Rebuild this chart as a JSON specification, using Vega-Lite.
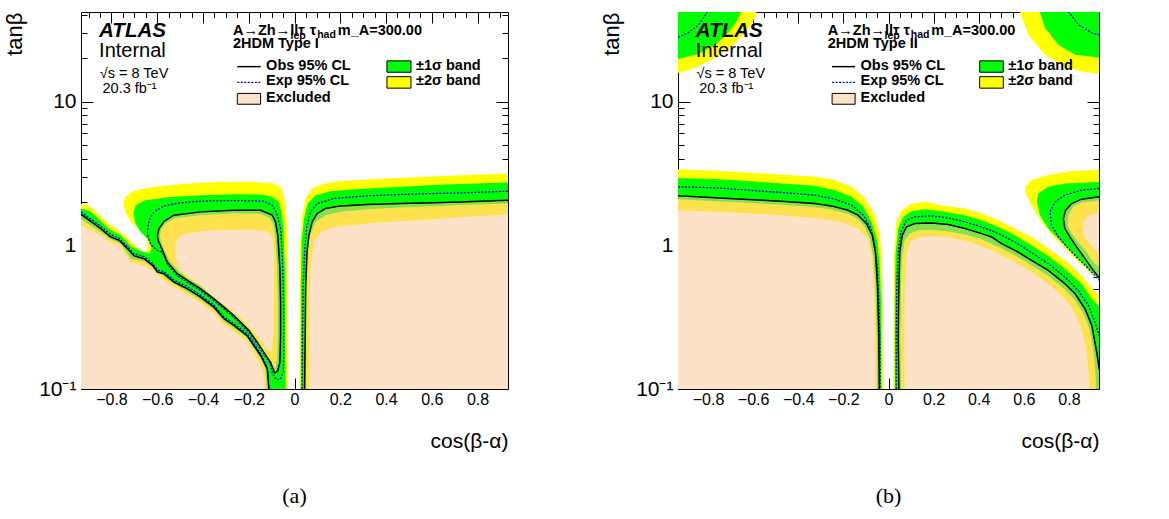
{
"$schema": "https://vega.github.io/schema/vega-lite/v6.json",
"background": "white",
"padding": {"left": 3, "top": 3, "right": 5, "bottom": 5},
"spacing": 91,
"config": {"view": {"stroke": "#000", "strokeWidth": 1}, "axis": {"labelFont": "Liberation Sans", "titleFont": "Liberation Sans", "labelColor": "#000", "titleColor": "#000", "tickColor": "#000", "domain": false, "grid": false}},
"datasets": {
"poly": [
{"p":"a","k":"oy","id":1,"o":1,"x":-0.95,"y":0.09},{"p":"a","k":"oy","id":1,"o":2,"x":-0.95,"y":1.984},{"p":"a","k":"oy","id":1,"o":3,"x":-0.89,"y":1.851},{"p":"a","k":"oy","id":1,"o":4,"x":-0.847,"y":1.577},{"p":"a","k":"oy","id":1,"o":5,"x":-0.803,"y":1.379},{"p":"a","k":"oy","id":1,"o":6,"x":-0.759,"y":1.239},{"p":"a","k":"oy","id":1,"o":7,"x":-0.716,"y":1.066},{"p":"a","k":"oy","id":1,"o":8,"x":-0.687,"y":0.958},{"p":"a","k":"oy","id":1,"o":9,"x":-0.655,"y":0.898},{"p":"a","k":"oy","id":1,"o":10,"x":-0.64,"y":0.908},{"p":"a","k":"oy","id":1,"o":11,"x":-0.643,"y":1.044},{"p":"a","k":"oy","id":1,"o":12,"x":-0.657,"y":1.174},{"p":"a","k":"oy","id":1,"o":13,"x":-0.684,"y":1.307},{"p":"a","k":"oy","id":1,"o":14,"x":-0.713,"y":1.455},{"p":"a","k":"oy","id":1,"o":15,"x":-0.737,"y":1.663},{"p":"a","k":"oy","id":1,"o":16,"x":-0.748,"y":1.921},{"p":"a","k":"oy","id":1,"o":17,"x":-0.74,"y":2.174},{"p":"a","k":"oy","id":1,"o":18,"x":-0.701,"y":2.393},{"p":"a","k":"oy","id":1,"o":19,"x":-0.628,"y":2.539},{"p":"a","k":"oy","id":1,"o":20,"x":-0.483,"y":2.679},{"p":"a","k":"oy","id":1,"o":21,"x":-0.337,"y":2.751},{"p":"a","k":"oy","id":1,"o":22,"x":-0.192,"y":2.766},{"p":"a","k":"oy","id":1,"o":23,"x":-0.09,"y":2.693},{"p":"a","k":"oy","id":1,"o":24,"x":-0.057,"y":2.485},{"p":"a","k":"oy","id":1,"o":25,"x":-0.042,"y":2.006},{"p":"a","k":"oy","id":1,"o":26,"x":-0.035,"y":1.535},{"p":"a","k":"oy","id":1,"o":27,"x":-0.032,"y":0.898},{"p":"a","k":"oy","id":1,"o":28,"x":-0.031,"y":0.09},
{"p":"a","k":"oy","id":2,"o":1,"x":0.022,"y":0.09},{"p":"a","k":"oy","id":2,"o":2,"x":0.022,"y":0.526},{"p":"a","k":"oy","id":2,"o":3,"x":0.025,"y":1.055},{"p":"a","k":"oy","id":2,"o":4,"x":0.033,"y":1.62},{"p":"a","k":"oy","id":2,"o":5,"x":0.048,"y":2.116},{"p":"a","k":"oy","id":2,"o":6,"x":0.077,"y":2.485},{"p":"a","k":"oy","id":2,"o":7,"x":0.128,"y":2.693},{"p":"a","k":"oy","id":2,"o":8,"x":0.215,"y":2.811},{"p":"a","k":"oy","id":2,"o":9,"x":0.317,"y":2.872},{"p":"a","k":"oy","id":2,"o":10,"x":0.463,"y":2.95},{"p":"a","k":"oy","id":2,"o":11,"x":0.608,"y":3.013},{"p":"a","k":"oy","id":2,"o":12,"x":0.753,"y":3.078},{"p":"a","k":"oy","id":2,"o":13,"x":0.95,"y":3.162},{"p":"a","k":"oy","id":2,"o":14,"x":0.95,"y":0.09},
{"p":"a","k":"og","id":3,"o":1,"x":-0.95,"y":0.09},{"p":"a","k":"og","id":3,"o":2,"x":-0.95,"y":1.851},{"p":"a","k":"og","id":3,"o":3,"x":-0.89,"y":1.708},{"p":"a","k":"og","id":3,"o":4,"x":-0.847,"y":1.478},{"p":"a","k":"og","id":3,"o":5,"x":-0.803,"y":1.273},{"p":"a","k":"og","id":3,"o":6,"x":-0.759,"y":1.174},{"p":"a","k":"og","id":3,"o":7,"x":-0.716,"y":0.989},{"p":"a","k":"og","id":3,"o":8,"x":-0.672,"y":0.908},{"p":"a","k":"og","id":3,"o":9,"x":-0.633,"y":0.875},{"p":"a","k":"og","id":3,"o":10,"x":-0.625,"y":0.958},{"p":"a","k":"og","id":3,"o":11,"x":-0.64,"y":1.101},{"p":"a","k":"og","id":3,"o":12,"x":-0.672,"y":1.239},{"p":"a","k":"og","id":3,"o":13,"x":-0.697,"y":1.439},{"p":"a","k":"og","id":3,"o":14,"x":-0.704,"y":1.69},{"p":"a","k":"og","id":3,"o":15,"x":-0.694,"y":1.901},{"p":"a","k":"og","id":3,"o":16,"x":-0.657,"y":2.049},{"p":"a","k":"og","id":3,"o":17,"x":-0.556,"y":2.162},{"p":"a","k":"og","id":3,"o":18,"x":-0.41,"y":2.233},{"p":"a","k":"og","id":3,"o":19,"x":-0.265,"y":2.269},{"p":"a","k":"og","id":3,"o":20,"x":-0.148,"y":2.257},{"p":"a","k":"og","id":3,"o":21,"x":-0.097,"y":2.174},{"p":"a","k":"og","id":3,"o":22,"x":-0.068,"y":1.984},{"p":"a","k":"og","id":3,"o":23,"x":-0.054,"y":1.62},{"p":"a","k":"og","id":3,"o":24,"x":-0.047,"y":1.174},{"p":"a","k":"og","id":3,"o":25,"x":-0.042,"y":0.688},{"p":"a","k":"og","id":3,"o":26,"x":-0.039,"y":0.09},
{"p":"a","k":"og","id":4,"o":1,"x":0.028,"y":0.09},{"p":"a","k":"og","id":4,"o":2,"x":0.028,"y":0.526},{"p":"a","k":"og","id":4,"o":3,"x":0.031,"y":1.055},{"p":"a","k":"og","id":4,"o":4,"x":0.041,"y":1.535},{"p":"a","k":"og","id":4,"o":5,"x":0.058,"y":1.953},{"p":"a","k":"og","id":4,"o":6,"x":0.092,"y":2.233},{"p":"a","k":"og","id":4,"o":7,"x":0.157,"y":2.38},{"p":"a","k":"og","id":4,"o":8,"x":0.244,"y":2.446},{"p":"a","k":"og","id":4,"o":9,"x":0.317,"y":2.485},{"p":"a","k":"og","id":4,"o":10,"x":0.463,"y":2.553},{"p":"a","k":"og","id":4,"o":11,"x":0.608,"y":2.622},{"p":"a","k":"og","id":4,"o":12,"x":0.753,"y":2.679},{"p":"a","k":"og","id":4,"o":13,"x":0.95,"y":2.736},{"p":"a","k":"og","id":4,"o":14,"x":0.95,"y":0.09},
{"p":"a","k":"ig","id":5,"o":1,"x":-0.95,"y":0.09},{"p":"a","k":"ig","id":5,"o":2,"x":-0.95,"y":1.577},{"p":"a","k":"ig","id":5,"o":3,"x":-0.847,"y":1.239},{"p":"a","k":"ig","id":5,"o":4,"x":-0.803,"y":1.101},{"p":"a","k":"ig","id":5,"o":5,"x":-0.759,"y":1.027},{"p":"a","k":"ig","id":5,"o":6,"x":-0.716,"y":0.807},{"p":"a","k":"ig","id":5,"o":7,"x":-0.657,"y":0.773},{"p":"a","k":"ig","id":5,"o":8,"x":-0.614,"y":0.695},{"p":"a","k":"ig","id":5,"o":9,"x":-0.556,"y":0.579},{"p":"a","k":"ig","id":5,"o":10,"x":-0.468,"y":0.477},{"p":"a","k":"ig","id":5,"o":11,"x":-0.41,"y":0.417},{"p":"a","k":"ig","id":5,"o":12,"x":-0.352,"y":0.358},{"p":"a","k":"ig","id":5,"o":13,"x":-0.308,"y":0.296},{"p":"a","k":"ig","id":5,"o":14,"x":-0.265,"y":0.266},{"p":"a","k":"ig","id":5,"o":15,"x":-0.207,"y":0.226},{"p":"a","k":"ig","id":5,"o":16,"x":-0.148,"y":0.164},{"p":"a","k":"ig","id":5,"o":17,"x":-0.127,"y":0.138},{"p":"a","k":"ig","id":5,"o":18,"x":-0.119,"y":0.09},
{"p":"a","k":"ig","id":6,"o":1,"x":-0.588,"y":1.174},{"p":"a","k":"ig","id":6,"o":2,"x":-0.582,"y":1.293},{"p":"a","k":"ig","id":6,"o":3,"x":-0.563,"y":1.416},{"p":"a","k":"ig","id":6,"o":4,"x":-0.519,"y":1.551},{"p":"a","k":"ig","id":6,"o":5,"x":-0.41,"y":1.62},{"p":"a","k":"ig","id":6,"o":6,"x":-0.265,"y":1.663},{"p":"a","k":"ig","id":6,"o":7,"x":-0.148,"y":1.654},{"p":"a","k":"ig","id":6,"o":8,"x":-0.108,"y":1.551},{"p":"a","k":"ig","id":6,"o":9,"x":-0.093,"y":1.394},{"p":"a","k":"ig","id":6,"o":10,"x":-0.084,"y":1.113},{"p":"a","k":"ig","id":6,"o":11,"x":-0.076,"y":0.688},{"p":"a","k":"ig","id":6,"o":12,"x":-0.073,"y":0.402},{"p":"a","k":"ig","id":6,"o":13,"x":-0.073,"y":0.235},{"p":"a","k":"ig","id":6,"o":14,"x":-0.076,"y":0.162},{"p":"a","k":"ig","id":6,"o":15,"x":-0.084,"y":0.139},{"p":"a","k":"ig","id":6,"o":16,"x":-0.097,"y":0.146},{"p":"a","k":"ig","id":6,"o":17,"x":-0.119,"y":0.162},{"p":"a","k":"ig","id":6,"o":18,"x":-0.148,"y":0.19},{"p":"a","k":"ig","id":6,"o":19,"x":-0.177,"y":0.224},{"p":"a","k":"ig","id":6,"o":20,"x":-0.207,"y":0.262},{"p":"a","k":"ig","id":6,"o":21,"x":-0.243,"y":0.3},{"p":"a","k":"ig","id":6,"o":22,"x":-0.272,"y":0.337},{"p":"a","k":"ig","id":6,"o":23,"x":-0.316,"y":0.386},{"p":"a","k":"ig","id":6,"o":24,"x":-0.359,"y":0.441},{"p":"a","k":"ig","id":6,"o":25,"x":-0.41,"y":0.518},{"p":"a","k":"ig","id":6,"o":26,"x":-0.468,"y":0.592},{"p":"a","k":"ig","id":6,"o":27,"x":-0.505,"y":0.659},{"p":"a","k":"ig","id":6,"o":28,"x":-0.548,"y":0.786},{"p":"a","k":"ig","id":6,"o":29,"x":-0.57,"y":0.938},{"p":"a","k":"ig","id":6,"o":30,"x":-0.585,"y":1.084},
{"p":"a","k":"ig","id":7,"o":1,"x":0.049,"y":0.09},{"p":"a","k":"ig","id":7,"o":2,"x":0.051,"y":0.526},{"p":"a","k":"ig","id":7,"o":3,"x":0.055,"y":0.852},{"p":"a","k":"ig","id":7,"o":4,"x":0.067,"y":1.174},{"p":"a","k":"ig","id":7,"o":5,"x":0.092,"y":1.455},{"p":"a","k":"ig","id":7,"o":6,"x":0.135,"y":1.62},{"p":"a","k":"ig","id":7,"o":7,"x":0.201,"y":1.708},{"p":"a","k":"ig","id":7,"o":8,"x":0.317,"y":1.783},{"p":"a","k":"ig","id":7,"o":9,"x":0.463,"y":1.831},{"p":"a","k":"ig","id":7,"o":10,"x":0.608,"y":1.87},{"p":"a","k":"ig","id":7,"o":11,"x":0.753,"y":1.911},{"p":"a","k":"ig","id":7,"o":12,"x":0.95,"y":1.953},{"p":"a","k":"ig","id":7,"o":13,"x":0.95,"y":0.09},
{"p":"a","k":"iy","id":8,"o":1,"x":-0.95,"y":0.09},{"p":"a","k":"iy","id":8,"o":2,"x":-0.95,"y":1.416},{"p":"a","k":"iy","id":8,"o":3,"x":-0.847,"y":1.174},{"p":"a","k":"iy","id":8,"o":4,"x":-0.803,"y":1.044},{"p":"a","k":"iy","id":8,"o":5,"x":-0.759,"y":0.974},{"p":"a","k":"iy","id":8,"o":6,"x":-0.716,"y":0.757},{"p":"a","k":"iy","id":8,"o":7,"x":-0.657,"y":0.725},{"p":"a","k":"iy","id":8,"o":8,"x":-0.614,"y":0.652},{"p":"a","k":"iy","id":8,"o":9,"x":-0.556,"y":0.546},{"p":"a","k":"iy","id":8,"o":10,"x":-0.468,"y":0.453},{"p":"a","k":"iy","id":8,"o":11,"x":-0.41,"y":0.396},{"p":"a","k":"iy","id":8,"o":12,"x":-0.352,"y":0.339},{"p":"a","k":"iy","id":8,"o":13,"x":-0.308,"y":0.281},{"p":"a","k":"iy","id":8,"o":14,"x":-0.265,"y":0.252},{"p":"a","k":"iy","id":8,"o":15,"x":-0.207,"y":0.214},{"p":"a","k":"iy","id":8,"o":16,"x":-0.156,"y":0.154},{"p":"a","k":"iy","id":8,"o":17,"x":-0.134,"y":0.124},{"p":"a","k":"iy","id":8,"o":18,"x":-0.129,"y":0.09},
{"p":"a","k":"iy","id":9,"o":1,"x":-0.524,"y":0.948},{"p":"a","k":"iy","id":9,"o":2,"x":-0.519,"y":1.055},{"p":"a","k":"iy","id":9,"o":3,"x":-0.497,"y":1.174},{"p":"a","k":"iy","id":9,"o":4,"x":-0.439,"y":1.239},{"p":"a","k":"iy","id":9,"o":5,"x":-0.337,"y":1.279},{"p":"a","k":"iy","id":9,"o":6,"x":-0.192,"y":1.286},{"p":"a","k":"iy","id":9,"o":7,"x":-0.119,"y":1.252},{"p":"a","k":"iy","id":9,"o":8,"x":-0.097,"y":1.143},{"p":"a","k":"iy","id":9,"o":9,"x":-0.09,"y":0.852},{"p":"a","k":"iy","id":9,"o":10,"x":-0.09,"y":0.402},{"p":"a","k":"iy","id":9,"o":11,"x":-0.093,"y":0.235},{"p":"a","k":"iy","id":9,"o":12,"x":-0.102,"y":0.18},{"p":"a","k":"iy","id":9,"o":13,"x":-0.119,"y":0.185},{"p":"a","k":"iy","id":9,"o":14,"x":-0.148,"y":0.218},{"p":"a","k":"iy","id":9,"o":15,"x":-0.177,"y":0.249},{"p":"a","k":"iy","id":9,"o":16,"x":-0.207,"y":0.284},{"p":"a","k":"iy","id":9,"o":17,"x":-0.243,"y":0.321},{"p":"a","k":"iy","id":9,"o":18,"x":-0.279,"y":0.358},{"p":"a","k":"iy","id":9,"o":19,"x":-0.323,"y":0.402},{"p":"a","k":"iy","id":9,"o":20,"x":-0.367,"y":0.46},{"p":"a","k":"iy","id":9,"o":21,"x":-0.41,"y":0.532},{"p":"a","k":"iy","id":9,"o":22,"x":-0.468,"y":0.611},{"p":"a","k":"iy","id":9,"o":23,"x":-0.505,"y":0.688},{"p":"a","k":"iy","id":9,"o":24,"x":-0.519,"y":0.807},
{"p":"a","k":"iy","id":10,"o":1,"x":0.063,"y":0.09},{"p":"a","k":"iy","id":10,"o":2,"x":0.064,"y":0.402},{"p":"a","k":"iy","id":10,"o":3,"x":0.07,"y":0.688},{"p":"a","k":"iy","id":10,"o":4,"x":0.084,"y":1.055},{"p":"a","k":"iy","id":10,"o":5,"x":0.113,"y":1.239},{"p":"a","k":"iy","id":10,"o":6,"x":0.172,"y":1.342},{"p":"a","k":"iy","id":10,"o":7,"x":0.317,"y":1.416},{"p":"a","k":"iy","id":10,"o":8,"x":0.463,"y":1.47},{"p":"a","k":"iy","id":10,"o":9,"x":0.608,"y":1.518},{"p":"a","k":"iy","id":10,"o":10,"x":0.753,"y":1.577},{"p":"a","k":"iy","id":10,"o":11,"x":0.95,"y":1.645},{"p":"a","k":"iy","id":10,"o":12,"x":0.95,"y":0.09},
{"p":"a","k":"ob","id":11,"o":1,"x":-0.95,"y":0.09},{"p":"a","k":"ob","id":11,"o":2,"x":-0.95,"y":1.72},{"p":"a","k":"ob","id":11,"o":3,"x":-0.847,"y":1.307},{"p":"a","k":"ob","id":11,"o":4,"x":-0.804,"y":1.143},{"p":"a","k":"ob","id":11,"o":5,"x":-0.767,"y":1.084},{"p":"a","k":"ob","id":11,"o":6,"x":-0.73,"y":0.948},{"p":"a","k":"ob","id":11,"o":7,"x":-0.701,"y":0.843},{"p":"a","k":"ob","id":11,"o":8,"x":-0.657,"y":0.807},{"p":"a","k":"ob","id":11,"o":9,"x":-0.621,"y":0.725},{"p":"a","k":"ob","id":11,"o":10,"x":-0.599,"y":0.652},{"p":"a","k":"ob","id":11,"o":11,"x":-0.57,"y":0.634},{"p":"a","k":"ob","id":11,"o":12,"x":-0.527,"y":0.555},{"p":"a","k":"ob","id":11,"o":13,"x":-0.468,"y":0.498},{"p":"a","k":"ob","id":11,"o":14,"x":-0.41,"y":0.436},{"p":"a","k":"ob","id":11,"o":15,"x":-0.352,"y":0.371},{"p":"a","k":"ob","id":11,"o":16,"x":-0.308,"y":0.308},{"p":"a","k":"ob","id":11,"o":17,"x":-0.265,"y":0.277},{"p":"a","k":"ob","id":11,"o":18,"x":-0.207,"y":0.235},{"p":"a","k":"ob","id":11,"o":19,"x":-0.177,"y":0.2},{"p":"a","k":"ob","id":11,"o":20,"x":-0.148,"y":0.171},{"p":"a","k":"ob","id":11,"o":21,"x":-0.119,"y":0.138},{"p":"a","k":"ob","id":11,"o":22,"x":-0.112,"y":0.1},{"p":"a","k":"ob","id":11,"o":23,"x":-0.112,"y":0.09},
{"p":"a","k":"ob","id":12,"o":1,"x":-0.599,"y":1.174},{"p":"a","k":"ob","id":12,"o":2,"x":-0.592,"y":1.307},{"p":"a","k":"ob","id":12,"o":3,"x":-0.57,"y":1.47},{"p":"a","k":"ob","id":12,"o":4,"x":-0.527,"y":1.62},{"p":"a","k":"ob","id":12,"o":5,"x":-0.41,"y":1.708},{"p":"a","k":"ob","id":12,"o":6,"x":-0.265,"y":1.754},{"p":"a","k":"ob","id":12,"o":7,"x":-0.148,"y":1.754},{"p":"a","k":"ob","id":12,"o":8,"x":-0.097,"y":1.62},{"p":"a","k":"ob","id":12,"o":9,"x":-0.083,"y":1.455},{"p":"a","k":"ob","id":12,"o":10,"x":-0.073,"y":1.174},{"p":"a","k":"ob","id":12,"o":11,"x":-0.064,"y":0.688},{"p":"a","k":"ob","id":12,"o":12,"x":-0.061,"y":0.402},{"p":"a","k":"ob","id":12,"o":13,"x":-0.061,"y":0.235},{"p":"a","k":"ob","id":12,"o":14,"x":-0.064,"y":0.154},{"p":"a","k":"ob","id":12,"o":15,"x":-0.073,"y":0.134},{"p":"a","k":"ob","id":12,"o":16,"x":-0.087,"y":0.129},{"p":"a","k":"ob","id":12,"o":17,"x":-0.105,"y":0.154},{"p":"a","k":"ob","id":12,"o":18,"x":-0.134,"y":0.18},{"p":"a","k":"ob","id":12,"o":19,"x":-0.163,"y":0.212},{"p":"a","k":"ob","id":12,"o":20,"x":-0.199,"y":0.255},{"p":"a","k":"ob","id":12,"o":21,"x":-0.236,"y":0.292},{"p":"a","k":"ob","id":12,"o":22,"x":-0.265,"y":0.325},{"p":"a","k":"ob","id":12,"o":23,"x":-0.308,"y":0.371},{"p":"a","k":"ob","id":12,"o":24,"x":-0.352,"y":0.424},{"p":"a","k":"ob","id":12,"o":25,"x":-0.41,"y":0.498},{"p":"a","k":"ob","id":12,"o":26,"x":-0.468,"y":0.57},{"p":"a","k":"ob","id":12,"o":27,"x":-0.512,"y":0.634},{"p":"a","k":"ob","id":12,"o":28,"x":-0.556,"y":0.765},{"p":"a","k":"ob","id":12,"o":29,"x":-0.577,"y":0.923},{"p":"a","k":"ob","id":12,"o":30,"x":-0.596,"y":1.084},{"p":"a","k":"ob","id":12,"o":31,"x":-0.599,"y":1.174},
{"p":"a","k":"ob","id":13,"o":1,"x":0.044,"y":0.09},{"p":"a","k":"ob","id":13,"o":2,"x":0.044,"y":0.1},{"p":"a","k":"ob","id":13,"o":3,"x":0.047,"y":0.235},{"p":"a","k":"ob","id":13,"o":4,"x":0.049,"y":0.526},{"p":"a","k":"ob","id":13,"o":5,"x":0.055,"y":0.898},{"p":"a","k":"ob","id":13,"o":6,"x":0.063,"y":1.174},{"p":"a","k":"ob","id":13,"o":7,"x":0.077,"y":1.455},{"p":"a","k":"ob","id":13,"o":8,"x":0.099,"y":1.663},{"p":"a","k":"ob","id":13,"o":9,"x":0.135,"y":1.803},{"p":"a","k":"ob","id":13,"o":10,"x":0.201,"y":1.88},{"p":"a","k":"ob","id":13,"o":11,"x":0.317,"y":1.921},{"p":"a","k":"ob","id":13,"o":12,"x":0.463,"y":1.953},{"p":"a","k":"ob","id":13,"o":13,"x":0.608,"y":1.974},{"p":"a","k":"ob","id":13,"o":14,"x":0.753,"y":2.006},{"p":"a","k":"ob","id":13,"o":15,"x":0.95,"y":2.065},{"p":"a","k":"ob","id":13,"o":16,"x":0.95,"y":0.09},
{"p":"b","k":"oy","id":1,"o":1,"x":-0.95,"y":0.09},{"p":"b","k":"oy","id":1,"o":2,"x":-0.95,"y":3.39},{"p":"b","k":"oy","id":1,"o":3,"x":-0.77,"y":3.3},{"p":"b","k":"oy","id":1,"o":4,"x":-0.623,"y":3.214},{"p":"b","k":"oy","id":1,"o":5,"x":-0.475,"y":3.112},{"p":"b","k":"oy","id":1,"o":6,"x":-0.327,"y":2.997},{"p":"b","k":"oy","id":1,"o":7,"x":-0.238,"y":2.841},{"p":"b","k":"oy","id":1,"o":8,"x":-0.164,"y":2.553},{"p":"b","k":"oy","id":1,"o":9,"x":-0.105,"y":2.116},{"p":"b","k":"oy","id":1,"o":10,"x":-0.061,"y":1.62},{"p":"b","k":"oy","id":1,"o":11,"x":-0.038,"y":1.174},{"p":"b","k":"oy","id":1,"o":12,"x":-0.028,"y":0.688},{"p":"b","k":"oy","id":1,"o":13,"x":-0.024,"y":0.09},
{"p":"b","k":"oy","id":2,"o":1,"x":0.021,"y":0.09},{"p":"b","k":"oy","id":2,"o":2,"x":0.022,"y":0.402},{"p":"b","k":"oy","id":2,"o":3,"x":0.025,"y":0.898},{"p":"b","k":"oy","id":2,"o":4,"x":0.035,"y":1.455},{"p":"b","k":"oy","id":2,"o":5,"x":0.058,"y":1.754},{"p":"b","k":"oy","id":2,"o":6,"x":0.102,"y":1.953},{"p":"b","k":"oy","id":2,"o":7,"x":0.161,"y":2.006},{"p":"b","k":"oy","id":2,"o":8,"x":0.235,"y":1.901},{"p":"b","k":"oy","id":2,"o":9,"x":0.339,"y":1.803},{"p":"b","k":"oy","id":2,"o":10,"x":0.413,"y":1.663},{"p":"b","k":"oy","id":2,"o":11,"x":0.487,"y":1.494},{"p":"b","k":"oy","id":2,"o":12,"x":0.56,"y":1.307},{"p":"b","k":"oy","id":2,"o":13,"x":0.634,"y":1.143},{"p":"b","k":"oy","id":2,"o":14,"x":0.708,"y":0.948},{"p":"b","k":"oy","id":2,"o":15,"x":0.782,"y":0.786},{"p":"b","k":"oy","id":2,"o":16,"x":0.856,"y":0.617},{"p":"b","k":"oy","id":2,"o":17,"x":0.901,"y":0.498},{"p":"b","k":"oy","id":2,"o":18,"x":0.95,"y":0.424},{"p":"b","k":"oy","id":2,"o":19,"x":0.95,"y":0.09},
{"p":"b","k":"oy","id":3,"o":1,"x":0.95,"y":3.372},{"p":"b","k":"oy","id":3,"o":2,"x":0.812,"y":3.283},{"p":"b","k":"oy","id":3,"o":3,"x":0.708,"y":3.078},{"p":"b","k":"oy","id":3,"o":4,"x":0.634,"y":2.841},{"p":"b","k":"oy","id":3,"o":5,"x":0.605,"y":2.553},{"p":"b","k":"oy","id":3,"o":6,"x":0.608,"y":2.293},{"p":"b","k":"oy","id":3,"o":7,"x":0.634,"y":1.901},{"p":"b","k":"oy","id":3,"o":8,"x":0.679,"y":1.455},{"p":"b","k":"oy","id":3,"o":9,"x":0.738,"y":1.113},{"p":"b","k":"oy","id":3,"o":10,"x":0.797,"y":0.898},{"p":"b","k":"oy","id":3,"o":11,"x":0.856,"y":0.725},{"p":"b","k":"oy","id":3,"o":12,"x":0.901,"y":0.634},{"p":"b","k":"oy","id":3,"o":13,"x":0.95,"y":0.55},
{"p":"b","k":"oy","id":4,"o":1,"x":-0.95,"y":45},{"p":"b","k":"oy","id":4,"o":2,"x":-0.578,"y":45},{"p":"b","k":"oy","id":4,"o":3,"x":-0.6,"y":36.1},{"p":"b","k":"oy","id":4,"o":4,"x":-0.637,"y":30},{"p":"b","k":"oy","id":4,"o":5,"x":-0.696,"y":24.2},{"p":"b","k":"oy","id":4,"o":6,"x":-0.77,"y":20.1},{"p":"b","k":"oy","id":4,"o":7,"x":-0.859,"y":17.1},{"p":"b","k":"oy","id":4,"o":8,"x":-0.95,"y":15.5},
{"p":"b","k":"oy","id":5,"o":1,"x":0.575,"y":45},{"p":"b","k":"oy","id":5,"o":2,"x":0.95,"y":45},{"p":"b","k":"oy","id":5,"o":3,"x":0.95,"y":15.5},{"p":"b","k":"oy","id":5,"o":4,"x":0.871,"y":16},{"p":"b","k":"oy","id":5,"o":5,"x":0.782,"y":17.5},{"p":"b","k":"oy","id":5,"o":6,"x":0.694,"y":21.2},{"p":"b","k":"oy","id":5,"o":7,"x":0.62,"y":29.2},
{"p":"b","k":"og","id":6,"o":1,"x":-0.95,"y":0.09},{"p":"b","k":"og","id":6,"o":2,"x":-0.95,"y":2.95},{"p":"b","k":"og","id":6,"o":3,"x":-0.77,"y":2.887},{"p":"b","k":"og","id":6,"o":4,"x":-0.623,"y":2.796},{"p":"b","k":"og","id":6,"o":5,"x":-0.475,"y":2.693},{"p":"b","k":"og","id":6,"o":6,"x":-0.327,"y":2.594},{"p":"b","k":"og","id":6,"o":7,"x":-0.238,"y":2.419},{"p":"b","k":"og","id":6,"o":8,"x":-0.164,"y":2.174},{"p":"b","k":"og","id":6,"o":9,"x":-0.112,"y":1.851},{"p":"b","k":"og","id":6,"o":10,"x":-0.075,"y":1.455},{"p":"b","k":"og","id":6,"o":11,"x":-0.049,"y":1.055},{"p":"b","k":"og","id":6,"o":12,"x":-0.038,"y":0.688},{"p":"b","k":"og","id":6,"o":13,"x":-0.033,"y":0.402},{"p":"b","k":"og","id":6,"o":14,"x":-0.031,"y":0.09},
{"p":"b","k":"og","id":7,"o":1,"x":0.028,"y":0.09},{"p":"b","k":"og","id":7,"o":2,"x":0.028,"y":0.402},{"p":"b","k":"og","id":7,"o":3,"x":0.031,"y":0.852},{"p":"b","k":"og","id":7,"o":4,"x":0.043,"y":1.307},{"p":"b","k":"og","id":7,"o":5,"x":0.065,"y":1.577},{"p":"b","k":"og","id":7,"o":6,"x":0.102,"y":1.727},{"p":"b","k":"og","id":7,"o":7,"x":0.161,"y":1.783},{"p":"b","k":"og","id":7,"o":8,"x":0.235,"y":1.727},{"p":"b","k":"og","id":7,"o":9,"x":0.339,"y":1.62},{"p":"b","k":"og","id":7,"o":10,"x":0.413,"y":1.494},{"p":"b","k":"og","id":7,"o":11,"x":0.487,"y":1.342},{"p":"b","k":"og","id":7,"o":12,"x":0.56,"y":1.174},{"p":"b","k":"og","id":7,"o":13,"x":0.634,"y":1.0},{"p":"b","k":"og","id":7,"o":14,"x":0.708,"y":0.843},{"p":"b","k":"og","id":7,"o":15,"x":0.782,"y":0.688},{"p":"b","k":"og","id":7,"o":16,"x":0.856,"y":0.54},{"p":"b","k":"og","id":7,"o":17,"x":0.901,"y":0.424},{"p":"b","k":"og","id":7,"o":18,"x":0.95,"y":0.352},{"p":"b","k":"og","id":7,"o":19,"x":0.95,"y":0.09},
{"p":"b","k":"og","id":8,"o":1,"x":0.95,"y":2.766},{"p":"b","k":"og","id":8,"o":2,"x":0.782,"y":2.693},{"p":"b","k":"og","id":8,"o":3,"x":0.708,"y":2.553},{"p":"b","k":"og","id":8,"o":4,"x":0.664,"y":2.293},{"p":"b","k":"og","id":8,"o":5,"x":0.657,"y":2.006},{"p":"b","k":"og","id":8,"o":6,"x":0.671,"y":1.62},{"p":"b","k":"og","id":8,"o":7,"x":0.708,"y":1.307},{"p":"b","k":"og","id":8,"o":8,"x":0.767,"y":1.055},{"p":"b","k":"og","id":8,"o":9,"x":0.827,"y":0.852},{"p":"b","k":"og","id":8,"o":10,"x":0.886,"y":0.688},{"p":"b","k":"og","id":8,"o":11,"x":0.95,"y":0.565},
{"p":"b","k":"og","id":9,"o":1,"x":-0.95,"y":45},{"p":"b","k":"og","id":9,"o":2,"x":-0.645,"y":45},{"p":"b","k":"og","id":9,"o":3,"x":-0.674,"y":36.1},{"p":"b","k":"og","id":9,"o":4,"x":-0.711,"y":30},{"p":"b","k":"og","id":9,"o":5,"x":-0.77,"y":24.8},{"p":"b","k":"og","id":9,"o":6,"x":-0.844,"y":21.4},{"p":"b","k":"og","id":9,"o":7,"x":-0.95,"y":19.5},
{"p":"b","k":"og","id":10,"o":1,"x":0.664,"y":45},{"p":"b","k":"og","id":10,"o":2,"x":0.95,"y":45},{"p":"b","k":"og","id":10,"o":3,"x":0.95,"y":20.1},{"p":"b","k":"og","id":10,"o":4,"x":0.827,"y":21.2},{"p":"b","k":"og","id":10,"o":5,"x":0.753,"y":24.8},{"p":"b","k":"og","id":10,"o":6,"x":0.694,"y":32.5},
{"p":"b","k":"ig","id":11,"o":1,"x":-0.95,"y":0.09},{"p":"b","k":"ig","id":11,"o":2,"x":-0.95,"y":2.094},{"p":"b","k":"ig","id":11,"o":3,"x":-0.77,"y":2.028},{"p":"b","k":"ig","id":11,"o":4,"x":-0.623,"y":1.974},{"p":"b","k":"ig","id":11,"o":5,"x":-0.475,"y":1.911},{"p":"b","k":"ig","id":11,"o":6,"x":-0.327,"y":1.841},{"p":"b","k":"ig","id":11,"o":7,"x":-0.253,"y":1.773},{"p":"b","k":"ig","id":11,"o":8,"x":-0.179,"y":1.654},{"p":"b","k":"ig","id":11,"o":9,"x":-0.135,"y":1.518},{"p":"b","k":"ig","id":11,"o":10,"x":-0.105,"y":1.335},{"p":"b","k":"ig","id":11,"o":11,"x":-0.083,"y":1.113},{"p":"b","k":"ig","id":11,"o":12,"x":-0.068,"y":0.852},{"p":"b","k":"ig","id":11,"o":13,"x":-0.058,"y":0.526},{"p":"b","k":"ig","id":11,"o":14,"x":-0.052,"y":0.235},{"p":"b","k":"ig","id":11,"o":15,"x":-0.049,"y":0.09},
{"p":"b","k":"ig","id":12,"o":1,"x":0.055,"y":0.09},{"p":"b","k":"ig","id":12,"o":2,"x":0.053,"y":0.235},{"p":"b","k":"ig","id":12,"o":3,"x":0.055,"y":0.526},{"p":"b","k":"ig","id":12,"o":4,"x":0.061,"y":0.852},{"p":"b","k":"ig","id":12,"o":5,"x":0.072,"y":1.084},{"p":"b","k":"ig","id":12,"o":6,"x":0.095,"y":1.206},{"p":"b","k":"ig","id":12,"o":7,"x":0.132,"y":1.273},{"p":"b","k":"ig","id":12,"o":8,"x":0.191,"y":1.279},{"p":"b","k":"ig","id":12,"o":9,"x":0.265,"y":1.252},{"p":"b","k":"ig","id":12,"o":10,"x":0.339,"y":1.187},{"p":"b","k":"ig","id":12,"o":11,"x":0.413,"y":1.101},{"p":"b","k":"ig","id":12,"o":12,"x":0.487,"y":0.974},{"p":"b","k":"ig","id":12,"o":13,"x":0.56,"y":0.852},{"p":"b","k":"ig","id":12,"o":14,"x":0.634,"y":0.725},{"p":"b","k":"ig","id":12,"o":15,"x":0.708,"y":0.611},{"p":"b","k":"ig","id":12,"o":16,"x":0.782,"y":0.493},{"p":"b","k":"ig","id":12,"o":17,"x":0.827,"y":0.417},{"p":"b","k":"ig","id":12,"o":18,"x":0.864,"y":0.334},{"p":"b","k":"ig","id":12,"o":19,"x":0.893,"y":0.255},{"p":"b","k":"ig","id":12,"o":20,"x":0.912,"y":0.171},{"p":"b","k":"ig","id":12,"o":21,"x":0.923,"y":0.09},
{"p":"b","k":"ig","id":13,"o":1,"x":0.95,"y":2.061},{"p":"b","k":"ig","id":13,"o":2,"x":0.856,"y":1.984},{"p":"b","k":"ig","id":13,"o":3,"x":0.819,"y":1.851},{"p":"b","k":"ig","id":13,"o":4,"x":0.797,"y":1.62},{"p":"b","k":"ig","id":13,"o":5,"x":0.794,"y":1.379},{"p":"b","k":"ig","id":13,"o":6,"x":0.812,"y":1.206},{"p":"b","k":"ig","id":13,"o":7,"x":0.841,"y":1.055},{"p":"b","k":"ig","id":13,"o":8,"x":0.878,"y":0.898},{"p":"b","k":"ig","id":13,"o":9,"x":0.908,"y":0.765},{"p":"b","k":"ig","id":13,"o":10,"x":0.95,"y":0.669},
{"p":"b","k":"iy","id":14,"o":1,"x":-0.95,"y":0.09},{"p":"b","k":"iy","id":14,"o":2,"x":-0.95,"y":1.754},{"p":"b","k":"iy","id":14,"o":3,"x":-0.77,"y":1.708},{"p":"b","k":"iy","id":14,"o":4,"x":-0.623,"y":1.672},{"p":"b","k":"iy","id":14,"o":5,"x":-0.475,"y":1.62},{"p":"b","k":"iy","id":14,"o":6,"x":-0.327,"y":1.551},{"p":"b","k":"iy","id":14,"o":7,"x":-0.209,"y":1.455},{"p":"b","k":"iy","id":14,"o":8,"x":-0.135,"y":1.307},{"p":"b","k":"iy","id":14,"o":9,"x":-0.09,"y":1.113},{"p":"b","k":"iy","id":14,"o":10,"x":-0.075,"y":0.852},{"p":"b","k":"iy","id":14,"o":11,"x":-0.065,"y":0.526},{"p":"b","k":"iy","id":14,"o":12,"x":-0.061,"y":0.235},{"p":"b","k":"iy","id":14,"o":13,"x":-0.058,"y":0.09},
{"p":"b","k":"iy","id":15,"o":1,"x":0.072,"y":0.09},{"p":"b","k":"iy","id":15,"o":2,"x":0.07,"y":0.235},{"p":"b","k":"iy","id":15,"o":3,"x":0.072,"y":0.526},{"p":"b","k":"iy","id":15,"o":4,"x":0.08,"y":0.852},{"p":"b","k":"iy","id":15,"o":5,"x":0.095,"y":1.055},{"p":"b","k":"iy","id":15,"o":6,"x":0.132,"y":1.143},{"p":"b","k":"iy","id":15,"o":7,"x":0.191,"y":1.162},{"p":"b","k":"iy","id":15,"o":8,"x":0.265,"y":1.137},{"p":"b","k":"iy","id":15,"o":9,"x":0.339,"y":1.078},{"p":"b","k":"iy","id":15,"o":10,"x":0.413,"y":0.989},{"p":"b","k":"iy","id":15,"o":11,"x":0.487,"y":0.875},{"p":"b","k":"iy","id":15,"o":12,"x":0.56,"y":0.765},{"p":"b","k":"iy","id":15,"o":13,"x":0.634,"y":0.652},{"p":"b","k":"iy","id":15,"o":14,"x":0.708,"y":0.54},{"p":"b","k":"iy","id":15,"o":15,"x":0.767,"y":0.448},{"p":"b","k":"iy","id":15,"o":16,"x":0.812,"y":0.371},{"p":"b","k":"iy","id":15,"o":17,"x":0.849,"y":0.284},{"p":"b","k":"iy","id":15,"o":18,"x":0.874,"y":0.2},{"p":"b","k":"iy","id":15,"o":19,"x":0.886,"y":0.138},{"p":"b","k":"iy","id":15,"o":20,"x":0.89,"y":0.09},
{"p":"b","k":"iy","id":16,"o":1,"x":0.95,"y":1.708},{"p":"b","k":"iy","id":16,"o":2,"x":0.886,"y":1.62},{"p":"b","k":"iy","id":16,"o":3,"x":0.864,"y":1.455},{"p":"b","k":"iy","id":16,"o":4,"x":0.859,"y":1.239},{"p":"b","k":"iy","id":16,"o":5,"x":0.878,"y":1.084},{"p":"b","k":"iy","id":16,"o":6,"x":0.908,"y":0.948},{"p":"b","k":"iy","id":16,"o":7,"x":0.95,"y":0.852},
{"p":"b","k":"ob","id":17,"o":1,"x":-0.95,"y":0.09},{"p":"b","k":"ob","id":17,"o":2,"x":-0.95,"y":2.215},{"p":"b","k":"ob","id":17,"o":3,"x":-0.933,"y":2.209},{"p":"b","k":"ob","id":17,"o":4,"x":-0.77,"y":2.139},{"p":"b","k":"ob","id":17,"o":5,"x":-0.623,"y":2.082},{"p":"b","k":"ob","id":17,"o":6,"x":-0.475,"y":2.028},{"p":"b","k":"ob","id":17,"o":7,"x":-0.327,"y":1.953},{"p":"b","k":"ob","id":17,"o":8,"x":-0.253,"y":1.88},{"p":"b","k":"ob","id":17,"o":9,"x":-0.179,"y":1.754},{"p":"b","k":"ob","id":17,"o":10,"x":-0.135,"y":1.62},{"p":"b","k":"ob","id":17,"o":11,"x":-0.098,"y":1.416},{"p":"b","k":"ob","id":17,"o":12,"x":-0.072,"y":1.174},{"p":"b","k":"ob","id":17,"o":13,"x":-0.058,"y":0.898},{"p":"b","k":"ob","id":17,"o":14,"x":-0.049,"y":0.526},{"p":"b","k":"ob","id":17,"o":15,"x":-0.043,"y":0.235},{"p":"b","k":"ob","id":17,"o":16,"x":-0.041,"y":0.1},{"p":"b","k":"ob","id":17,"o":17,"x":-0.041,"y":0.09},
{"p":"b","k":"ob","id":18,"o":1,"x":0.046,"y":0.09},{"p":"b","k":"ob","id":18,"o":2,"x":0.046,"y":0.1},{"p":"b","k":"ob","id":18,"o":3,"x":0.043,"y":0.235},{"p":"b","k":"ob","id":18,"o":4,"x":0.046,"y":0.526},{"p":"b","k":"ob","id":18,"o":5,"x":0.05,"y":0.898},{"p":"b","k":"ob","id":18,"o":6,"x":0.061,"y":1.174},{"p":"b","k":"ob","id":18,"o":7,"x":0.08,"y":1.342},{"p":"b","k":"ob","id":18,"o":8,"x":0.117,"y":1.416},{"p":"b","k":"ob","id":18,"o":9,"x":0.191,"y":1.431},{"p":"b","k":"ob","id":18,"o":10,"x":0.265,"y":1.394},{"p":"b","k":"ob","id":18,"o":11,"x":0.339,"y":1.307},{"p":"b","k":"ob","id":18,"o":12,"x":0.413,"y":1.206},{"p":"b","k":"ob","id":18,"o":13,"x":0.457,"y":1.143},{"p":"b","k":"ob","id":18,"o":14,"x":0.501,"y":1.027},{"p":"b","k":"ob","id":18,"o":15,"x":0.56,"y":0.923},{"p":"b","k":"ob","id":18,"o":16,"x":0.634,"y":0.786},{"p":"b","k":"ob","id":18,"o":17,"x":0.708,"y":0.669},{"p":"b","k":"ob","id":18,"o":18,"x":0.782,"y":0.54},{"p":"b","k":"ob","id":18,"o":19,"x":0.827,"y":0.46},{"p":"b","k":"ob","id":18,"o":20,"x":0.871,"y":0.361},{"p":"b","k":"ob","id":18,"o":21,"x":0.901,"y":0.277},{"p":"b","k":"ob","id":18,"o":22,"x":0.923,"y":0.18},{"p":"b","k":"ob","id":18,"o":23,"x":0.934,"y":0.138},{"p":"b","k":"ob","id":18,"o":24,"x":0.95,"y":0.125},{"p":"b","k":"ob","id":18,"o":25,"x":0.95,"y":0.09},
{"p":"b","k":"ob","id":19,"o":1,"x":0.95,"y":2.19},{"p":"b","k":"ob","id":19,"o":2,"x":0.934,"y":2.174},{"p":"b","k":"ob","id":19,"o":3,"x":0.856,"y":2.094},{"p":"b","k":"ob","id":19,"o":4,"x":0.812,"y":1.953},{"p":"b","k":"ob","id":19,"o":5,"x":0.785,"y":1.754},{"p":"b","k":"ob","id":19,"o":6,"x":0.775,"y":1.535},{"p":"b","k":"ob","id":19,"o":7,"x":0.782,"y":1.307},{"p":"b","k":"ob","id":19,"o":8,"x":0.804,"y":1.143},{"p":"b","k":"ob","id":19,"o":9,"x":0.834,"y":0.974},{"p":"b","k":"ob","id":19,"o":10,"x":0.871,"y":0.807},{"p":"b","k":"ob","id":19,"o":11,"x":0.908,"y":0.669},{"p":"b","k":"ob","id":19,"o":12,"x":0.934,"y":0.592},{"p":"b","k":"ob","id":19,"o":13,"x":0.95,"y":0.57}
],
"line": [
{"p":"a","id":1,"o":1,"x":-0.933,"y":1.708},{"p":"a","id":1,"o":2,"x":-0.847,"y":1.357},{"p":"a","id":1,"o":3,"x":-0.803,"y":1.187},{"p":"a","id":1,"o":4,"x":-0.767,"y":1.119},{"p":"a","id":1,"o":5,"x":-0.73,"y":0.979},{"p":"a","id":1,"o":6,"x":-0.701,"y":0.87},{"p":"a","id":1,"o":7,"x":-0.657,"y":0.833},{"p":"a","id":1,"o":8,"x":-0.621,"y":0.749},{"p":"a","id":1,"o":9,"x":-0.599,"y":0.673},{"p":"a","id":1,"o":10,"x":-0.57,"y":0.655},{"p":"a","id":1,"o":11,"x":-0.527,"y":0.573},{"p":"a","id":1,"o":12,"x":-0.468,"y":0.515},{"p":"a","id":1,"o":13,"x":-0.41,"y":0.45},{"p":"a","id":1,"o":14,"x":-0.352,"y":0.383},{"p":"a","id":1,"o":15,"x":-0.308,"y":0.318},{"p":"a","id":1,"o":16,"x":-0.265,"y":0.286},{"p":"a","id":1,"o":17,"x":-0.207,"y":0.243},{"p":"a","id":1,"o":18,"x":-0.177,"y":0.207},{"p":"a","id":1,"o":19,"x":-0.148,"y":0.176},{"p":"a","id":1,"o":20,"x":-0.119,"y":0.142},{"p":"a","id":1,"o":21,"x":-0.111,"y":0.1},
{"p":"a","id":2,"o":1,"x":-0.64,"y":1.143},{"p":"a","id":2,"o":2,"x":-0.643,"y":1.239},{"p":"a","id":2,"o":3,"x":-0.636,"y":1.494},{"p":"a","id":2,"o":4,"x":-0.614,"y":1.708},{"p":"a","id":2,"o":5,"x":-0.57,"y":1.88},{"p":"a","id":2,"o":6,"x":-0.499,"y":1.974},{"p":"a","id":2,"o":7,"x":-0.41,"y":2.028},{"p":"a","id":2,"o":8,"x":-0.265,"y":2.049},{"p":"a","id":2,"o":9,"x":-0.134,"y":2.028},{"p":"a","id":2,"o":10,"x":-0.097,"y":1.901},{"p":"a","id":2,"o":11,"x":-0.077,"y":1.663},{"p":"a","id":2,"o":12,"x":-0.061,"y":1.307},{"p":"a","id":2,"o":13,"x":-0.054,"y":0.898},{"p":"a","id":2,"o":14,"x":-0.049,"y":0.526},{"p":"a","id":2,"o":15,"x":-0.047,"y":0.308},{"p":"a","id":2,"o":16,"x":-0.047,"y":0.18},{"p":"a","id":2,"o":17,"x":-0.049,"y":0.131},{"p":"a","id":2,"o":18,"x":-0.061,"y":0.117},{"p":"a","id":2,"o":19,"x":-0.079,"y":0.116},{"p":"a","id":2,"o":20,"x":-0.097,"y":0.128},{"p":"a","id":2,"o":21,"x":-0.105,"y":0.149},{"p":"a","id":2,"o":22,"x":-0.134,"y":0.175},{"p":"a","id":2,"o":23,"x":-0.163,"y":0.205},{"p":"a","id":2,"o":24,"x":-0.199,"y":0.247},{"p":"a","id":2,"o":25,"x":-0.236,"y":0.283},{"p":"a","id":2,"o":26,"x":-0.265,"y":0.315},{"p":"a","id":2,"o":27,"x":-0.308,"y":0.36},{"p":"a","id":2,"o":28,"x":-0.352,"y":0.411},{"p":"a","id":2,"o":29,"x":-0.41,"y":0.483},{"p":"a","id":2,"o":30,"x":-0.468,"y":0.552},{"p":"a","id":2,"o":31,"x":-0.512,"y":0.614},{"p":"a","id":2,"o":32,"x":-0.556,"y":0.741},{"p":"a","id":2,"o":33,"x":-0.577,"y":0.894},{"p":"a","id":2,"o":34,"x":-0.599,"y":0.923},{"p":"a","id":2,"o":35,"x":-0.628,"y":1.011},{"p":"a","id":2,"o":36,"x":-0.64,"y":1.143},
{"p":"a","id":3,"o":1,"x":0.033,"y":0.1},{"p":"a","id":3,"o":2,"x":0.035,"y":0.235},{"p":"a","id":3,"o":3,"x":0.038,"y":0.526},{"p":"a","id":3,"o":4,"x":0.044,"y":0.898},{"p":"a","id":3,"o":5,"x":0.052,"y":1.307},{"p":"a","id":3,"o":6,"x":0.07,"y":1.708},{"p":"a","id":3,"o":7,"x":0.099,"y":1.953},{"p":"a","id":3,"o":8,"x":0.172,"y":2.116},{"p":"a","id":3,"o":9,"x":0.317,"y":2.209},{"p":"a","id":3,"o":10,"x":0.463,"y":2.257},{"p":"a","id":3,"o":11,"x":0.608,"y":2.293},{"p":"a","id":3,"o":12,"x":0.753,"y":2.318},{"p":"a","id":3,"o":13,"x":0.933,"y":2.38},
{"p":"b","id":4,"o":1,"x":-0.933,"y":2.553},{"p":"b","id":4,"o":2,"x":-0.77,"y":2.512},{"p":"b","id":4,"o":3,"x":-0.623,"y":2.419},{"p":"b","id":4,"o":4,"x":-0.475,"y":2.33},{"p":"b","id":4,"o":5,"x":-0.327,"y":2.233},{"p":"b","id":4,"o":6,"x":-0.238,"y":2.094},{"p":"b","id":4,"o":7,"x":-0.164,"y":1.901},{"p":"b","id":4,"o":8,"x":-0.112,"y":1.62},{"p":"b","id":4,"o":9,"x":-0.078,"y":1.307},{"p":"b","id":4,"o":10,"x":-0.061,"y":1.0},{"p":"b","id":4,"o":11,"x":-0.049,"y":0.688},{"p":"b","id":4,"o":12,"x":-0.043,"y":0.402},{"p":"b","id":4,"o":13,"x":-0.038,"y":0.235},{"p":"b","id":4,"o":14,"x":-0.037,"y":0.1},
{"p":"b","id":5,"o":1,"x":0.034,"y":0.1},{"p":"b","id":5,"o":2,"x":0.034,"y":0.235},{"p":"b","id":5,"o":3,"x":0.037,"y":0.526},{"p":"b","id":5,"o":4,"x":0.043,"y":0.898},{"p":"b","id":5,"o":5,"x":0.055,"y":1.239},{"p":"b","id":5,"o":6,"x":0.08,"y":1.494},{"p":"b","id":5,"o":7,"x":0.117,"y":1.577},{"p":"b","id":5,"o":8,"x":0.191,"y":1.602},{"p":"b","id":5,"o":9,"x":0.265,"y":1.551},{"p":"b","id":5,"o":10,"x":0.339,"y":1.455},{"p":"b","id":5,"o":11,"x":0.413,"y":1.342},{"p":"b","id":5,"o":12,"x":0.487,"y":1.206},{"p":"b","id":5,"o":13,"x":0.56,"y":1.055},{"p":"b","id":5,"o":14,"x":0.634,"y":0.889},{"p":"b","id":5,"o":15,"x":0.708,"y":0.745},{"p":"b","id":5,"o":16,"x":0.782,"y":0.601},{"p":"b","id":5,"o":17,"x":0.841,"y":0.485},{"p":"b","id":5,"o":18,"x":0.886,"y":0.381},{"p":"b","id":5,"o":19,"x":0.915,"y":0.292},{"p":"b","id":5,"o":20,"x":0.934,"y":0.235},
{"p":"b","id":6,"o":1,"x":0.934,"y":2.485},{"p":"b","id":6,"o":2,"x":0.856,"y":2.419},{"p":"b","id":6,"o":3,"x":0.782,"y":2.233},{"p":"b","id":6,"o":4,"x":0.738,"y":2.006},{"p":"b","id":6,"o":5,"x":0.716,"y":1.708},{"p":"b","id":6,"o":6,"x":0.723,"y":1.379},{"p":"b","id":6,"o":7,"x":0.753,"y":1.143},{"p":"b","id":6,"o":8,"x":0.797,"y":0.948},{"p":"b","id":6,"o":9,"x":0.841,"y":0.807},{"p":"b","id":6,"o":10,"x":0.886,"y":0.688},{"p":"b","id":6,"o":11,"x":0.934,"y":0.57},
{"p":"b","id":7,"o":1,"x":-0.933,"y":28},{"p":"b","id":7,"o":2,"x":-0.889,"y":30},{"p":"b","id":7,"o":3,"x":-0.844,"y":33.9},{"p":"b","id":7,"o":4,"x":-0.815,"y":39.2},{"p":"b","id":7,"o":5,"x":-0.803,"y":42.4},
{"p":"b","id":8,"o":1,"x":0.797,"y":42.4},{"p":"b","id":8,"o":2,"x":0.841,"y":34.3},{"p":"b","id":8,"o":3,"x":0.901,"y":30},{"p":"b","id":8,"o":4,"x":0.934,"y":29.2}
],
"ann": [
{"p":"*","r":"atlas","t":"ATLAS","x":-0.854,"y":30.8},
{"p":"*","r":"int","t":"Internal","x":-0.854,"y":22.6},
{"p":"*","r":"info","t":"√s = 8 TeV","x":-0.851,"y":15.5},
{"p":"*","r":"info","t":"20.3 fb⁻¹","x":-0.839,"y":12.25},
{"p":"*","r":"head","t":"A→Zh→llτ","x":-0.269,"y":31.1},
{"p":"*","r":"sub","t":"lep","x":-0.0175,"y":28.6},
{"p":"*","r":"head","t":"τ","x":0.067,"y":31.1},
{"p":"*","r":"sub","t":"had","x":0.099,"y":29.2},
{"p":"*","r":"head","t":"m_A=300.00","x":0.189,"y":31.1},
{"p":"a","r":"head","t":"2HDM Type I","x":-0.269,"y":25.1},
{"p":"b","r":"head","t":"2HDM Type II","x":-0.269,"y":25.1},
{"p":"*","r":"leg","t":"Obs 95% CL","x":-0.124,"y":17.8},
{"p":"*","r":"leg","t":"Exp 95% CL","x":-0.124,"y":13.8},
{"p":"*","r":"leg","t":"Excluded","x":-0.124,"y":10.66},
{"p":"*","r":"leg","t":"±1σ band","x":0.531,"y":17.8},
{"p":"*","r":"leg","t":"±2σ band","x":0.531,"y":13.8}
],
"leg": [
{"k":"obs","x":-0.25,"x2":-0.148,"y":17.5},
{"k":"exp","x":-0.25,"x2":-0.148,"y":13.6},
{"k":"excl","x":-0.25,"x2":-0.148,"y":9.58,"y2":11.4},
{"k":"g1","x":0.404,"x2":0.509,"y":16.0,"y2":19.2},
{"k":"y2","x":0.404,"x2":0.509,"y":12.4,"y2":14.9}
]
},
"hconcat": [
{
"width": 427, "height": 377,
"title": {"text": "(a)", "orient": "bottom", "anchor": "middle", "font": "Liberation Serif", "fontSize": 22, "fontWeight": "normal", "offset": 34, "color": "#000"},
"resolve": {"axis": {"x": "independent", "y": "independent"}},
"encoding": {
"x": {"field": "x", "type": "quantitative", "scale": {"domain": [-0.933, 0.933], "nice": false, "zero": false}, "axis": null},
"y": {"field": "y", "type": "quantitative", "scale": {"type": "log", "domain": [0.1, 42], "nice": false}, "axis": null}
},
"layer": [
{"data": {"name": "poly"}, "transform": [{"filter": "datum.p=='a' && datum.k=='oy'"}],
 "mark": {"type": "line", "fill": "#ffff00", "strokeWidth": 0, "strokeOpacity": 0, "clip": true},
 "encoding": {
  "x": {"field": "x", "type": "quantitative", "scale": {"domain": [-0.933, 0.933], "nice": false, "zero": false},
   "axis": {"orient": "bottom", "values": [-0.9,-0.85,-0.8,-0.75,-0.7,-0.65,-0.6,-0.55,-0.5,-0.45,-0.4,-0.35,-0.3,-0.25,-0.2,-0.15,-0.1,-0.05,0,0.05,0.1,0.15,0.2,0.25,0.3,0.35,0.4,0.45,0.5,0.55,0.6,0.65,0.7,0.75,0.8,0.85,0.9],
    "tickSize": {"condition": {"test": "abs(datum.value*5-round(datum.value*5))<0.001", "value": -11}, "value": -5.5},
    "labelExpr": "abs(datum.value*5-round(datum.value*5))<0.001 ? (abs(datum.value)<0.001 ? '0' : format(datum.value,'.1f')) : ''",
    "labelFontSize": 16, "labelPadding": 13, "labelOverlap": false, "labelFlush": false,
    "title": "cos(β-α)", "titleAnchor": "end", "titleFontSize": 21, "titleFontWeight": "normal", "titlePadding": 18}},
  "y": {"field": "y", "type": "quantitative", "scale": {"type": "log", "domain": [0.1, 42], "nice": false},
   "axis": {"orient": "left", "values": [0.1,0.2,0.3,0.4,0.5,0.6,0.7,0.8,0.9,1,2,3,4,5,6,7,8,9,10,20,30,40],
    "tickSize": {"condition": {"test": "abs(log(datum.value)/LN10-round(log(datum.value)/LN10))<0.001", "value": -12}, "value": -6},
    "labelExpr": "abs(log(datum.value)/LN10-round(log(datum.value)/LN10))<0.001 ? (datum.value<0.5 ? '10⁻¹' : (datum.value<5 ? '1' : '10')) : ''",
    "labelFontSize": 21, "labelPadding": 17, "labelOverlap": false, "labelFlush": false,
    "title": "tanβ", "titleAnchor": "end", "titleAlign": "right", "titleY": 0, "titleFontSize": 22, "titleFontWeight": "normal", "titlePadding": 12}},
  "detail": {"field": "id", "type": "nominal"},
  "order": {"field": "o", "type": "quantitative"}}},
{"data": {"name": "poly"}, "transform": [{"filter": "datum.p=='a' && datum.k=='og'"}],
 "mark": {"type": "line", "fill": "#00ff00", "strokeWidth": 0, "strokeOpacity": 0, "clip": true},
 "encoding": {
  "x": {"field": "x", "type": "quantitative", "scale": {"domain": [-0.933, 0.933], "nice": false, "zero": false},
   "axis": {"orient": "top", "values": [-0.9,-0.85,-0.8,-0.75,-0.7,-0.65,-0.6,-0.55,-0.5,-0.45,-0.4,-0.35,-0.3,-0.25,-0.2,-0.15,-0.1,-0.05,0,0.05,0.1,0.15,0.2,0.25,0.3,0.35,0.4,0.45,0.5,0.55,0.6,0.65,0.7,0.75,0.8,0.85,0.9],
    "tickSize": {"condition": {"test": "abs(datum.value*5-round(datum.value*5))<0.001", "value": -11}, "value": -5.5},
    "labels": false, "title": null}},
  "y": {"field": "y", "type": "quantitative", "scale": {"type": "log", "domain": [0.1, 42], "nice": false},
   "axis": {"orient": "right", "values": [0.1,0.2,0.3,0.4,0.5,0.6,0.7,0.8,0.9,1,2,3,4,5,6,7,8,9,10,20,30,40],
    "tickSize": {"condition": {"test": "abs(log(datum.value)/LN10-round(log(datum.value)/LN10))<0.001", "value": -12}, "value": -6},
    "labels": false, "title": null}},
  "detail": {"field": "id", "type": "nominal"},
  "order": {"field": "o", "type": "quantitative"}}},
{"data": {"name": "poly"}, "transform": [{"filter": "datum.p=='a' && datum.k=='ig'"}],
 "mark": {"type": "line", "fill": "#ffff00", "strokeWidth": 0, "strokeOpacity": 0, "clip": true},
 "encoding": {"detail": {"field": "id", "type": "nominal"}, "order": {"field": "o", "type": "quantitative"}}},
{"data": {"name": "poly"}, "transform": [{"filter": "datum.p=='a' && datum.k=='iy'"}],
 "mark": {"type": "line", "fill": "#ffffff", "strokeWidth": 0, "strokeOpacity": 0, "clip": true},
 "encoding": {"detail": {"field": "id", "type": "nominal"}, "order": {"field": "o", "type": "quantitative"}}},
{"data": {"name": "line"}, "transform": [{"filter": "datum.p=='a'"}],
 "mark": {"type": "line", "stroke": "#0000ff", "strokeWidth": 1.3, "strokeDash": [2, 1.5], "clip": true},
 "encoding": {"detail": {"field": "id", "type": "nominal"}, "order": {"field": "o", "type": "quantitative"}}},
{"data": {"name": "poly"}, "transform": [{"filter": "datum.p=='a' && datum.k=='ob'"}],
 "mark": {"type": "line", "fill": "#fbc896", "fillOpacity": 0.52, "stroke": "#000", "strokeWidth": 1.5, "clip": true},
 "encoding": {"detail": {"field": "id", "type": "nominal"}, "order": {"field": "o", "type": "quantitative"}}},
{"data": {"name": "leg"}, "transform": [{"filter": "datum.k=='excl'||datum.k=='g1'||datum.k=='y2'"}],
 "mark": {"type": "rect", "stroke": "#000", "strokeWidth": 1},
 "encoding": {"x2": {"field": "x2"}, "y2": {"field": "y2"}, "fill": {"field": "k", "type": "nominal", "scale": {"domain": ["excl", "g1", "y2"], "range": ["#fde2c8", "#00ff00", "#ffff00"]}, "legend": null}}},
{"data": {"name": "leg"}, "transform": [{"filter": "datum.k=='obs'"}],
 "mark": {"type": "rule", "stroke": "#000", "strokeWidth": 1.5}, "encoding": {"x2": {"field": "x2"}}},
{"data": {"name": "leg"}, "transform": [{"filter": "datum.k=='exp'"}],
 "mark": {"type": "rule", "stroke": "#0000ff", "strokeWidth": 1.3, "strokeDash": [2, 1.5]}, "encoding": {"x2": {"field": "x2"}}},
{"data": {"name": "ann"}, "transform": [{"filter": "(datum.p=='a'||datum.p=='*') && datum.r=='atlas'"}],
 "mark": {"type": "text", "align": "left", "baseline": "middle", "font": "Liberation Sans", "fontSize": 20.5, "fontWeight": "bold", "fontStyle": "italic", "fill": "#000"}, "encoding": {"text": {"field": "t"}}},
{"data": {"name": "ann"}, "transform": [{"filter": "(datum.p=='a'||datum.p=='*') && datum.r=='int'"}],
 "mark": {"type": "text", "align": "left", "baseline": "middle", "font": "Liberation Sans", "fontSize": 20, "fill": "#000"}, "encoding": {"text": {"field": "t"}}},
{"data": {"name": "ann"}, "transform": [{"filter": "(datum.p=='a'||datum.p=='*') && datum.r=='info'"}],
 "mark": {"type": "text", "align": "left", "baseline": "middle", "font": "Liberation Sans", "fontSize": 14.5, "fill": "#000"}, "encoding": {"text": {"field": "t"}}},
{"data": {"name": "ann"}, "transform": [{"filter": "(datum.p=='a'||datum.p=='*') && (datum.r=='head'||datum.r=='leg')"}],
 "mark": {"type": "text", "align": "left", "baseline": "middle", "font": "Liberation Sans", "fontSize": 14.5, "fontWeight": "bold", "fill": "#000"}, "encoding": {"text": {"field": "t"}}},
{"data": {"name": "ann"}, "transform": [{"filter": "(datum.p=='a'||datum.p=='*') && datum.r=='sub'"}],
 "mark": {"type": "text", "align": "left", "baseline": "middle", "font": "Liberation Sans", "fontSize": 10.5, "fontWeight": "bold", "fill": "#000"}, "encoding": {"text": {"field": "t"}}}
]
},
{
"width": 421, "height": 377,
"title": {"text": "(b)", "orient": "bottom", "anchor": "middle", "font": "Liberation Serif", "fontSize": 22, "fontWeight": "normal", "offset": 34, "color": "#000"},
"resolve": {"axis": {"x": "independent", "y": "independent"}},
"encoding": {
"x": {"field": "x", "type": "quantitative", "scale": {"domain": [-0.933, 0.933], "nice": false, "zero": false}, "axis": null},
"y": {"field": "y", "type": "quantitative", "scale": {"type": "log", "domain": [0.1, 42], "nice": false}, "axis": null}
},
"layer": [
{"data": {"name": "poly"}, "transform": [{"filter": "datum.p=='b' && datum.k=='oy'"}],
 "mark": {"type": "line", "fill": "#ffff00", "strokeWidth": 0, "strokeOpacity": 0, "clip": true},
 "encoding": {
  "x": {"field": "x", "type": "quantitative", "scale": {"domain": [-0.933, 0.933], "nice": false, "zero": false},
   "axis": {"orient": "bottom", "values": [-0.9,-0.85,-0.8,-0.75,-0.7,-0.65,-0.6,-0.55,-0.5,-0.45,-0.4,-0.35,-0.3,-0.25,-0.2,-0.15,-0.1,-0.05,0,0.05,0.1,0.15,0.2,0.25,0.3,0.35,0.4,0.45,0.5,0.55,0.6,0.65,0.7,0.75,0.8,0.85,0.9],
    "tickSize": {"condition": {"test": "abs(datum.value*5-round(datum.value*5))<0.001", "value": -11}, "value": -5.5},
    "labelExpr": "abs(datum.value*5-round(datum.value*5))<0.001 ? (abs(datum.value)<0.001 ? '0' : format(datum.value,'.1f')) : ''",
    "labelFontSize": 16, "labelPadding": 13, "labelOverlap": false, "labelFlush": false,
    "title": "cos(β-α)", "titleAnchor": "end", "titleFontSize": 21, "titleFontWeight": "normal", "titlePadding": 18}},
  "y": {"field": "y", "type": "quantitative", "scale": {"type": "log", "domain": [0.1, 42], "nice": false},
   "axis": {"orient": "left", "values": [0.1,0.2,0.3,0.4,0.5,0.6,0.7,0.8,0.9,1,2,3,4,5,6,7,8,9,10,20,30,40],
    "tickSize": {"condition": {"test": "abs(log(datum.value)/LN10-round(log(datum.value)/LN10))<0.001", "value": -12}, "value": -6},
    "labelExpr": "abs(log(datum.value)/LN10-round(log(datum.value)/LN10))<0.001 ? (datum.value<0.5 ? '10⁻¹' : (datum.value<5 ? '1' : '10')) : ''",
    "labelFontSize": 21, "labelPadding": 17, "labelOverlap": false, "labelFlush": false,
    "title": "tanβ", "titleAnchor": "end", "titleAlign": "right", "titleY": 0, "titleFontSize": 22, "titleFontWeight": "normal", "titlePadding": 12}},
  "detail": {"field": "id", "type": "nominal"},
  "order": {"field": "o", "type": "quantitative"}}},
{"data": {"name": "poly"}, "transform": [{"filter": "datum.p=='b' && datum.k=='og'"}],
 "mark": {"type": "line", "fill": "#00ff00", "strokeWidth": 0, "strokeOpacity": 0, "clip": true},
 "encoding": {
  "x": {"field": "x", "type": "quantitative", "scale": {"domain": [-0.933, 0.933], "nice": false, "zero": false},
   "axis": {"orient": "top", "values": [-0.9,-0.85,-0.8,-0.75,-0.7,-0.65,-0.6,-0.55,-0.5,-0.45,-0.4,-0.35,-0.3,-0.25,-0.2,-0.15,-0.1,-0.05,0,0.05,0.1,0.15,0.2,0.25,0.3,0.35,0.4,0.45,0.5,0.55,0.6,0.65,0.7,0.75,0.8,0.85,0.9],
    "tickSize": {"condition": {"test": "abs(datum.value*5-round(datum.value*5))<0.001", "value": -11}, "value": -5.5},
    "labels": false, "title": null}},
  "y": {"field": "y", "type": "quantitative", "scale": {"type": "log", "domain": [0.1, 42], "nice": false},
   "axis": {"orient": "right", "values": [0.1,0.2,0.3,0.4,0.5,0.6,0.7,0.8,0.9,1,2,3,4,5,6,7,8,9,10,20,30,40],
    "tickSize": {"condition": {"test": "abs(log(datum.value)/LN10-round(log(datum.value)/LN10))<0.001", "value": -12}, "value": -6},
    "labels": false, "title": null}},
  "detail": {"field": "id", "type": "nominal"},
  "order": {"field": "o", "type": "quantitative"}}},
{"data": {"name": "poly"}, "transform": [{"filter": "datum.p=='b' && datum.k=='ig'"}],
 "mark": {"type": "line", "fill": "#ffff00", "strokeWidth": 0, "strokeOpacity": 0, "clip": true},
 "encoding": {"detail": {"field": "id", "type": "nominal"}, "order": {"field": "o", "type": "quantitative"}}},
{"data": {"name": "poly"}, "transform": [{"filter": "datum.p=='b' && datum.k=='iy'"}],
 "mark": {"type": "line", "fill": "#ffffff", "strokeWidth": 0, "strokeOpacity": 0, "clip": true},
 "encoding": {"detail": {"field": "id", "type": "nominal"}, "order": {"field": "o", "type": "quantitative"}}},
{"data": {"name": "line"}, "transform": [{"filter": "datum.p=='b'"}],
 "mark": {"type": "line", "stroke": "#0000ff", "strokeWidth": 1.3, "strokeDash": [2, 1.5], "clip": true},
 "encoding": {"detail": {"field": "id", "type": "nominal"}, "order": {"field": "o", "type": "quantitative"}}},
{"data": {"name": "poly"}, "transform": [{"filter": "datum.p=='b' && datum.k=='ob'"}],
 "mark": {"type": "line", "fill": "#fbc896", "fillOpacity": 0.52, "stroke": "#000", "strokeWidth": 1.5, "clip": true},
 "encoding": {"detail": {"field": "id", "type": "nominal"}, "order": {"field": "o", "type": "quantitative"}}},
{"data": {"name": "leg"}, "transform": [{"filter": "datum.k=='excl'||datum.k=='g1'||datum.k=='y2'"}],
 "mark": {"type": "rect", "stroke": "#000", "strokeWidth": 1},
 "encoding": {"x2": {"field": "x2"}, "y2": {"field": "y2"}, "fill": {"field": "k", "type": "nominal", "scale": {"domain": ["excl", "g1", "y2"], "range": ["#fde2c8", "#00ff00", "#ffff00"]}, "legend": null}}},
{"data": {"name": "leg"}, "transform": [{"filter": "datum.k=='obs'"}],
 "mark": {"type": "rule", "stroke": "#000", "strokeWidth": 1.5}, "encoding": {"x2": {"field": "x2"}}},
{"data": {"name": "leg"}, "transform": [{"filter": "datum.k=='exp'"}],
 "mark": {"type": "rule", "stroke": "#0000ff", "strokeWidth": 1.3, "strokeDash": [2, 1.5]}, "encoding": {"x2": {"field": "x2"}}},
{"data": {"name": "ann"}, "transform": [{"filter": "(datum.p=='b'||datum.p=='*') && datum.r=='atlas'"}],
 "mark": {"type": "text", "align": "left", "baseline": "middle", "font": "Liberation Sans", "fontSize": 20.5, "fontWeight": "bold", "fontStyle": "italic", "fill": "#000"}, "encoding": {"text": {"field": "t"}}},
{"data": {"name": "ann"}, "transform": [{"filter": "(datum.p=='b'||datum.p=='*') && datum.r=='int'"}],
 "mark": {"type": "text", "align": "left", "baseline": "middle", "font": "Liberation Sans", "fontSize": 20, "fill": "#000"}, "encoding": {"text": {"field": "t"}}},
{"data": {"name": "ann"}, "transform": [{"filter": "(datum.p=='b'||datum.p=='*') && datum.r=='info'"}],
 "mark": {"type": "text", "align": "left", "baseline": "middle", "font": "Liberation Sans", "fontSize": 14.5, "fill": "#000"}, "encoding": {"text": {"field": "t"}}},
{"data": {"name": "ann"}, "transform": [{"filter": "(datum.p=='b'||datum.p=='*') && (datum.r=='head'||datum.r=='leg')"}],
 "mark": {"type": "text", "align": "left", "baseline": "middle", "font": "Liberation Sans", "fontSize": 14.5, "fontWeight": "bold", "fill": "#000"}, "encoding": {"text": {"field": "t"}}},
{"data": {"name": "ann"}, "transform": [{"filter": "(datum.p=='b'||datum.p=='*') && datum.r=='sub'"}],
 "mark": {"type": "text", "align": "left", "baseline": "middle", "font": "Liberation Sans", "fontSize": 10.5, "fontWeight": "bold", "fill": "#000"}, "encoding": {"text": {"field": "t"}}}
]
}
]
}
